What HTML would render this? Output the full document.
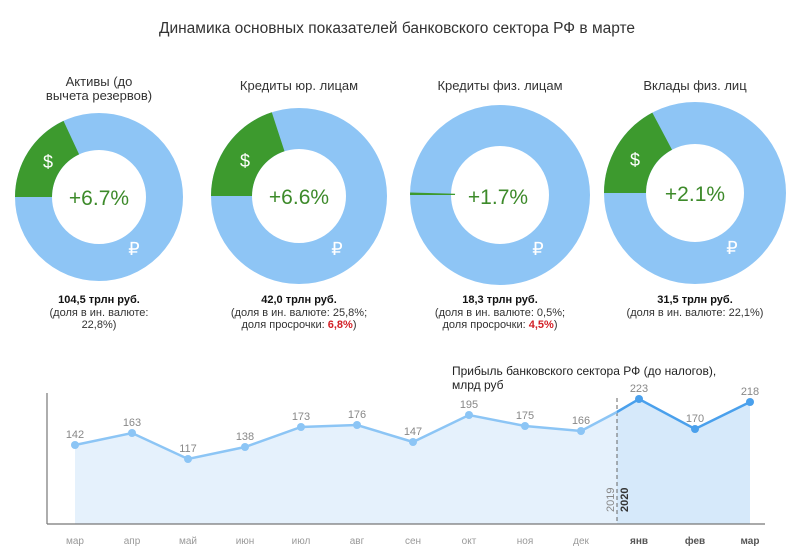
<!DOCTYPE html>
<html><head><meta charset="utf-8"><style>
body{margin:0;background:#fff;}
svg{display:block;font-family:"Liberation Sans",sans-serif;}
</style></head><body>
<svg width="800" height="559" viewBox="0 0 800 559">
<text x="397" y="33" text-anchor="middle" font-size="15.5" fill="#333">Динамика основных показателей банковского сектора РФ в марте</text>

<!-- Donut 1 -->
<g>
<text x="99" y="86" text-anchor="middle" font-size="13" fill="#333">Активы (до</text>
<text x="99" y="100" text-anchor="middle" font-size="13" fill="#333">вычета резервов)</text>
<circle cx="99" cy="197" r="65.5" fill="none" stroke="#8ec5f5" stroke-width="37"/>
<path d="M15,197 A84,84 0 0 1 63.5,120.9 L79.1,154.4 A47,47 0 0 0 52,197 Z" fill="#3d9a2e"/>
<text x="99" y="205" text-anchor="middle" font-size="21" fill="#3d8a2a">+6.7%</text>
<text x="48" y="168" text-anchor="middle" font-size="18" fill="#fff">$</text>
<text x="134" y="255" text-anchor="middle" font-size="18" fill="#fff">₽</text>
<text x="99" y="303" text-anchor="middle" font-size="11" font-weight="bold" fill="#111">104,5 трлн руб.</text>
<text x="99" y="316" text-anchor="middle" font-size="11" fill="#333">(доля в ин. валюте:</text>
<text x="99" y="328" text-anchor="middle" font-size="11" fill="#333">22,8%)</text>
</g>

<!-- Donut 2 -->
<g>
<text x="299" y="90" text-anchor="middle" font-size="13" fill="#333">Кредиты юр. лицам</text>
<circle cx="299" cy="196" r="67.5" fill="none" stroke="#8ec5f5" stroke-width="41"/>
<path d="M211,196 A88,88 0 0 1 271.8,112.3 L284.5,151.3 A47,47 0 0 0 252,196 Z" fill="#3d9a2e"/>
<text x="299" y="204" text-anchor="middle" font-size="21" fill="#3d8a2a">+6.6%</text>
<text x="245" y="167" text-anchor="middle" font-size="18" fill="#fff">$</text>
<text x="337" y="255" text-anchor="middle" font-size="18" fill="#fff">₽</text>
<text x="299" y="303" text-anchor="middle" font-size="11" font-weight="bold" fill="#111">42,0 трлн руб.</text>
<text x="299" y="316" text-anchor="middle" font-size="11" fill="#333">(доля в ин. валюте: 25,8%;</text>
<text x="299" y="328" text-anchor="middle" font-size="11" fill="#333">доля просрочки: <tspan fill="#d21f26" font-weight="bold">6,8%</tspan>)</text>
</g>

<!-- Donut 3 -->
<g>
<text x="500" y="90" text-anchor="middle" font-size="13" fill="#333">Кредиты физ. лицам</text>
<circle cx="500" cy="195" r="69.5" fill="none" stroke="#8ec5f5" stroke-width="41"/>
<path d="M410,195 A90,90 0 0 1 410.1,192.5 L455.1,193.7 A45,45 0 0 0 455,195 Z" fill="#3d9a2e"/>
<text x="498" y="204" text-anchor="middle" font-size="21" fill="#3d8a2a">+1.7%</text>
<text x="538" y="255" text-anchor="middle" font-size="18" fill="#fff">₽</text>
<text x="500" y="303" text-anchor="middle" font-size="11" font-weight="bold" fill="#111">18,3 трлн руб.</text>
<text x="500" y="316" text-anchor="middle" font-size="11" fill="#333">(доля в ин. валюте: 0,5%;</text>
<text x="500" y="328" text-anchor="middle" font-size="11" fill="#333">доля просрочки: <tspan fill="#d21f26" font-weight="bold">4,5%</tspan>)</text>
</g>

<!-- Donut 4 -->
<g>
<text x="695" y="90" text-anchor="middle" font-size="13" fill="#333">Вклады физ. лиц</text>
<circle cx="695" cy="193" r="70" fill="none" stroke="#8ec5f5" stroke-width="42"/>
<path d="M604,193 A91,91 0 0 1 652.3,112.6 L672,149.7 A49,49 0 0 0 646,193 Z" fill="#3d9a2e"/>
<text x="695" y="201" text-anchor="middle" font-size="21" fill="#3d8a2a">+2.1%</text>
<text x="635" y="166" text-anchor="middle" font-size="18" fill="#fff">$</text>
<text x="732" y="254" text-anchor="middle" font-size="18" fill="#fff">₽</text>
<text x="695" y="303" text-anchor="middle" font-size="11" font-weight="bold" fill="#111">31,5 трлн руб.</text>
<text x="695" y="316" text-anchor="middle" font-size="11" fill="#333">(доля в ин. валюте: 22,1%)</text>
</g>

<!-- Line chart -->
<text x="452" y="375" font-size="12" fill="#222">Прибыль банковского сектора РФ (до налогов),</text>
<text x="452" y="389" font-size="12" fill="#222">млрд руб</text>
<polygon points="75,445 132,433 188,459 245,447 301,427 357,425 413,442 469,415 525,426 581,431 617,412 617,524 75,524" fill="#e5f1fc"/>
<polygon points="617,412 639,399 695,429 750,402 750,524 617,524" fill="#d6e9fa"/>
<line x1="617" y1="398" x2="617" y2="524" stroke="#666" stroke-dasharray="4,3" stroke-width="1"/>
<line x1="47" y1="393" x2="47" y2="524" stroke="#777" stroke-width="1.2"/>
<line x1="47" y1="524" x2="765" y2="524" stroke="#777" stroke-width="1.2"/>
<polyline points="75,445 132,433 188,459 245,447 301,427 357,425 413,442 469,415 525,426 581,431 617,412" fill="none" stroke="#8cc5f5" stroke-width="2.5"/>
<polyline points="617,412 639,399 695,429 750,402" fill="none" stroke="#4aa0ec" stroke-width="2.5"/>
<g fill="#8cc5f5">
<circle cx="75" cy="445" r="4"/><circle cx="132" cy="433" r="4"/><circle cx="188" cy="459" r="4"/><circle cx="245" cy="447" r="4"/><circle cx="301" cy="427" r="4"/><circle cx="357" cy="425" r="4"/><circle cx="413" cy="442" r="4"/><circle cx="469" cy="415" r="4"/><circle cx="525" cy="426" r="4"/><circle cx="581" cy="431" r="4"/>
</g>
<g fill="#4aa0ec"><circle cx="639" cy="399" r="4"/><circle cx="695" cy="429" r="4"/><circle cx="750" cy="402" r="4"/></g>
<g font-size="11" fill="#888" text-anchor="middle">
<text x="75" y="438">142</text><text x="132" y="426">163</text><text x="188" y="452">117</text><text x="245" y="440">138</text><text x="301" y="420">173</text><text x="357" y="418">176</text><text x="413" y="435">147</text><text x="469" y="408">195</text><text x="525" y="419">175</text><text x="581" y="424">166</text><text x="639" y="392">223</text><text x="695" y="422">170</text><text x="750" y="395">218</text>
</g>
<text transform="translate(614,512) rotate(-90)" font-size="11" fill="#888">2019</text>
<text transform="translate(628,512) rotate(-90)" font-size="11" font-weight="bold" fill="#333">2020</text>
<g font-size="10" fill="#999" text-anchor="middle">
<text x="75" y="544">мар</text><text x="132" y="544">апр</text><text x="188" y="544">май</text><text x="245" y="544">июн</text><text x="301" y="544">июл</text><text x="357" y="544">авг</text><text x="413" y="544">сен</text><text x="469" y="544">окт</text><text x="525" y="544">ноя</text><text x="581" y="544">дек</text>
</g>
<g font-size="10" fill="#555" font-weight="bold" text-anchor="middle">
<text x="639" y="544">янв</text><text x="695" y="544">фев</text><text x="750" y="544">мар</text>
</g>
</svg>
</body></html>
